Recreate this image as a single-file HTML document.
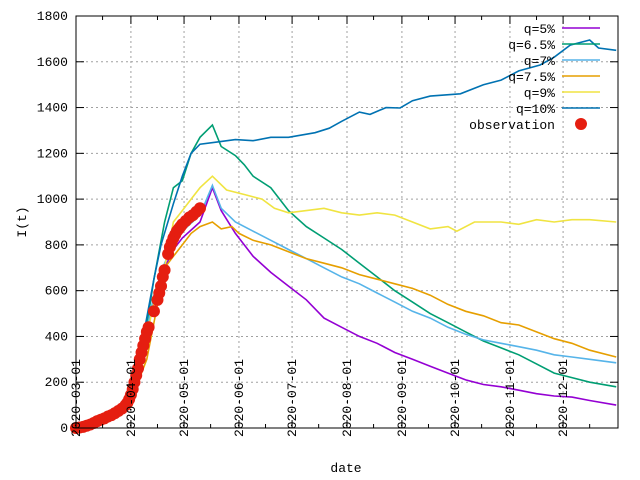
<!DOCTYPE html>
<html><head><meta charset="utf-8"><style>
body{margin:0;background:#fff}
svg{display:block;font-family:"Liberation Mono",monospace;font-size:13px}
</style></head><body>
<svg id="chart" width="640" height="480" viewBox="0 0 640 480" xmlns="http://www.w3.org/2000/svg">
<g id="grid"></g>
<g id="series"></g>
<g id="axes"></g>
<text x="0" y="0" transform="translate(26,222) rotate(-90)" text-anchor="middle">I(t)</text>
<text x="346" y="472" text-anchor="middle">date</text>
<g id="legend"></g>
</svg>
<script>
const yTicks=[0,200,400,600,800,1000,1200,1400,1600,1800];
const xTickDays=[0,31,61,92,122,153,184,214,245,275];
const xTickLabels=["2020-03-01","2020-04-01","2020-05-01","2020-06-01","2020-07-01","2020-08-01","2020-09-01","2020-10-01","2020-11-01","2020-12-01"];
const seriesNames=["q=5%","q=6.5%","q=7%","q=7.5%","q=9%","q=10%"];
const seriesColors=["#9400d3","#009e73","#56b4e9","#e69f00","#f0e442","#0072b2"];
const q5Days=[0,20,30,35,40,44,50,55,60,70,77,82,90,100,110,120,130,140,150,160,170,180,190,200,210,220,230,240,250,260,270,280,290,305];
const q5Vals=[0,50,130,230,420,560,700,780,830,900,1050,950,850,750,680,620,560,480,440,400,370,330,300,270,240,210,190,180,165,150,140,135,120,100];
const q65Days=[0,20,30,35,40,44,50,55,60,65,70,77,82,90,95,100,110,120,130,140,150,160,170,180,190,200,210,220,230,240,250,260,270,280,290,305];
const q65Vals=[0,50,130,240,450,650,900,1050,1080,1200,1270,1324,1230,1190,1150,1100,1050,950,880,830,780,720,660,600,550,500,460,420,380,350,320,280,240,220,200,180];
const q7Days=[0,20,30,35,40,44,50,55,60,70,77,82,90,100,110,120,130,140,150,160,170,180,190,200,210,220,230,240,250,260,270,280,290,305];
const q7Vals=[0,50,130,235,430,580,720,800,860,930,1060,960,900,860,820,780,740,700,660,630,590,550,510,480,440,410,385,370,355,340,320,310,300,285];
const q75Days=[0,20,30,35,40,45,50,55,60,65,70,77,82,88,92,100,110,120,130,140,150,160,170,180,190,200,210,220,230,240,250,260,270,280,290,305];
const q75Vals=[0,45,110,200,300,500,700,750,800,850,880,900,870,880,850,820,800,770,740,720,700,670,650,630,610,580,540,510,490,460,450,420,390,370,340,310];
const q9Days=[0,20,30,35,40,44,50,55,60,65,70,77,85,95,105,112,120,130,140,150,160,170,180,190,200,210,215,225,240,250,260,270,280,290,305];
const q9Vals=[0,50,125,225,400,550,700,900,950,1000,1050,1100,1040,1020,1000,960,940,950,960,940,930,940,930,900,870,880,860,900,900,890,910,900,910,910,900];
const q10Days=[0,20,30,35,38,44,48,55,60,65,70,80,90,100,110,120,135,143,150,160,166,175,183,190,200,217,230,240,250,262,270,279,290,295,305];
const q10Vals=[0,50,120,250,400,650,800,980,1100,1200,1240,1250,1260,1255,1270,1270,1290,1310,1340,1380,1370,1400,1398,1430,1450,1460,1500,1520,1560,1586,1620,1673,1695,1660,1650];
const obsDays=[0,2,4,6,8,10,12,14,16,18,20,22,24,26,28,29,30,31,32,33,34,35,36,37,38,39,40,41,44,46,47,48,49,50,52,53,54,55,56,57,58,59,60,62,64,66,68,70];
const obsVals=[0,2,5,10,15,22,30,36,42,50,56,65,75,85,100,110,125,145,170,200,230,260,300,330,360,390,420,440,510,560,590,620,660,690,760,790,810,830,845,860,870,880,890,905,920,930,945,960];

const L=76,R=618,T=16,B=428,DAYS=306,YMAX=1800;
const xs=d=>L+d*(R-L)/DAYS;
const ys=v=>B-v*(B-T)/YMAX;
const NS="http://www.w3.org/2000/svg";
function mk(tag,attrs,parent){const e=document.createElementNS(NS,tag);for(const k in attrs)e.setAttribute(k,attrs[k]);parent.appendChild(e);return e;}
const grid=document.getElementById('grid'),axes=document.getElementById('axes'),ser=document.getElementById('series'),leg=document.getElementById('legend');

yTicks.forEach(v=>{
  const y=ys(v);
  if(v>0&&v<YMAX){const g=mk('line',{x1:L,x2:R,y1:y,y2:y,stroke:'#a0a0a0','stroke-dasharray':'2,3','stroke-width':1},grid);
  }
  const t1=mk('line',{x1:L,x2:L+8,y1:y,y2:y,stroke:'#000'},axes);
  
  const t2=mk('line',{x1:R-8,x2:R,y1:y,y2:y,stroke:'#000'},axes);
  
  const tx=mk('text',{x:L-8,y:y+4,'text-anchor':'end'},axes);tx.textContent=v;
  
});
xTickDays.forEach((d,i)=>{
  const x=xs(d);
  if(d>0){const g=mk('line',{x1:x,x2:x,y1:T,y2:B,stroke:'#a0a0a0','stroke-dasharray':'2,3','stroke-width':1},grid);
  }
  const t1=mk('line',{x1:x,x2:x,y1:B,y2:B-8,stroke:'#000'},axes);
  
  const t2=mk('line',{x1:x,x2:x,y1:T,y2:T+8,stroke:'#000'},axes);
  
  const m=xs(d+15);
  if(m<R){const t3=mk('line',{x1:m,x2:m,y1:B,y2:B-4,stroke:'#000'},axes);
  
  const t4=mk('line',{x1:m,x2:m,y1:T,y2:T+4,stroke:'#000'},axes);
  }
  const tx=mk('text',{x:0,y:0,transform:`translate(${x+4},437) rotate(-90)`,'text-anchor':'start'},axes);tx.textContent=xTickLabels[i];
  
});
const border=mk('rect',{x:L,y:T,width:R-L,height:B-T,fill:'none',stroke:'#000','stroke-width':1},axes);


const allDays=[q5Days,q65Days,q7Days,q75Days,q9Days,q10Days];
const allVals=[q5Vals,q65Vals,q7Vals,q75Vals,q9Vals,q10Vals];
allDays.forEach((ds,i)=>{
  const pts=ds.map((d,j)=>xs(d).toFixed(1)+','+ys(allVals[i][j]).toFixed(1)).join(' ');
  const p=mk('polyline',{points:pts,fill:'none',stroke:seriesColors[i],'stroke-width':1.6},ser);
  
  
});
obsDays.forEach((d,j)=>{
  const c=mk('circle',{cx:xs(d),cy:ys(obsVals[j]),r:6,fill:'#e51e10'},ser);
  
});

const legRows=seriesNames.concat(['observation']);
legRows.forEach((n,i)=>{
  const y=28+i*16;
  const tx=mk('text',{x:555,y:y+5,'text-anchor':'end'},leg);tx.textContent=n;
  
  if(i<6){const l=mk('line',{x1:562,x2:600,y1:y,y2:y,stroke:seriesColors[i],'stroke-width':1.6},leg);
    }
  else{const c=mk('circle',{cx:581,cy:y,r:6,fill:'#e51e10'},leg);
    }
});
</script>
</body></html>
